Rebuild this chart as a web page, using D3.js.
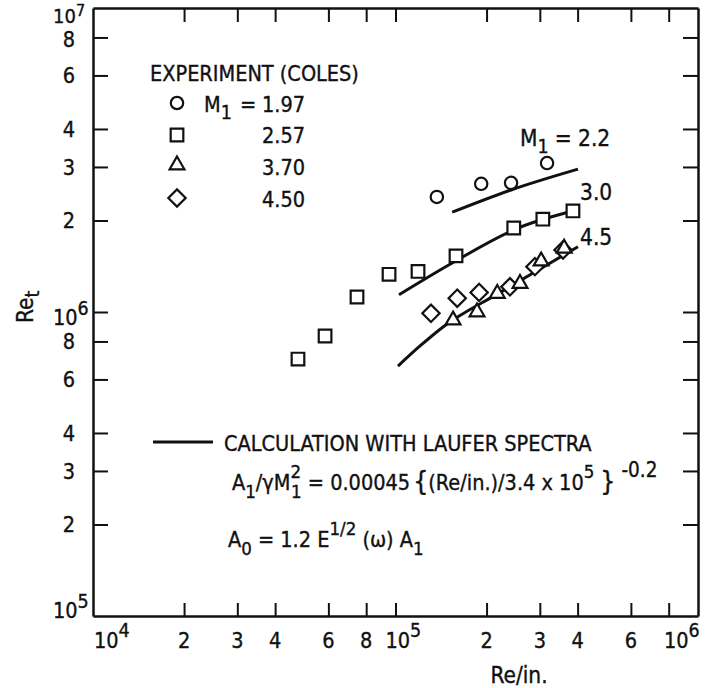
<!DOCTYPE html>
<html>
<head>
<meta charset="utf-8">
<script src="https://cdn.jsdelivr.net/npm/d3@7"></script>
<style>
  html, body { margin: 0; padding: 0; background: #fff; }
  svg { display: block; }
  text { font-family: "DejaVu Sans Condensed", "Liberation Sans Narrow", "DejaVu Sans", sans-serif; fill: #111; stroke: #111; stroke-width: 0.35px; }
</style>
</head>
<body>
<svg id="chart" width="706" height="688"></svg>
<script>
// ---------------- data ----------------
const seriesNames = ["1.97", "2.57", "3.70", "4.50"];
const seriesSymbols = ["circle", "square", "triangle", "diamond"];

const circleRe = [1.37e5, 1.92e5, 2.41e5, 3.17e5];
const circleRet = [2.39e6, 2.64e6, 2.66e6, 3.09e6];

const squareRe = [4.76e4, 5.85e4, 7.46e4, 9.52e4, 1.187e5, 1.585e5, 2.46e5, 3.07e5, 3.86e5];
const squareRet = [7.0e5, 8.34e5, 1.12e6, 1.33e6, 1.36e6, 1.53e6, 1.89e6, 2.02e6, 2.15e6];

const triangleRe = [1.55e5, 1.86e5, 2.17e5, 2.58e5, 3.03e5, 3.61e5];
const triangleRet = [9.4e5, 1.0e6, 1.15e6, 1.24e6, 1.47e6, 1.62e6];

const diamondRe = [1.31e5, 1.60e5, 1.89e5, 2.39e5, 2.89e5, 3.58e5];
const diamondRet = [9.9e5, 1.11e6, 1.16e6, 1.21e6, 1.41e6, 1.60e6];

// calculation curves (Laufer spectra)
const curveLabels = ["2.2", "3.0", "4.5"];
const calc22Re = [1.54e5, 2.41e5, 4.01e5];
const calc22Ret = [2.13e6, 2.52e6, 2.95e6];
const calc30Re = [1.027e5, 1.54e5, 2.58e5, 4.01e5];
const calc30Ret = [1.14e6, 1.45e6, 1.90e6, 2.17e6];
const calc45Re = [1.019e5, 1.205e5, 1.436e5, 2.22e5, 4.01e5];
const calc45Ret = [6.64e5, 7.73e5, 8.93e5, 1.16e6, 1.64e6];

// axes
const xDomain = [1e4, 1e6];
const yDomain = [1e5, 1e7];
const xTickValues = [2e4, 3e4, 4e4, 6e4, 8e4, 1e5, 2e5, 3e5, 4e5, 6e5, 8e5];
const yTickValues = [2e5, 3e5, 4e5, 6e5, 8e5, 1e6, 2e6, 3e6, 4e6, 6e6, 8e6];
const xLabelValues = [1e4, 2e4, 3e4, 4e4, 6e4, 8e4, 1e5, 2e5, 3e5, 4e5, 6e5, 1e6];
const xLabelMain = ["10", "2", "3", "4", "6", "8", "10", "2", "3", "4", "6", "10"];
const xLabelExp = ["4", "", "", "", "", "", "5", "", "", "", "", "6"];
const yLabelValues = [1e5, 2e5, 3e5, 4e5, 6e5, 8e5, 1e6, 2e6, 3e6, 4e6, 6e6, 8e6, 1e7];
const yLabelMain = ["10", "2", "3", "4", "6", "8", "10", "2", "3", "4", "6", "8", "10"];
const yLabelExp = ["5", "", "", "", "", "", "6", "", "", "", "", "", "7"];

const xTitle = "Re/in.";
const yTitle = "Re";
const yTitleSub = "t";
const legendTitle = "EXPERIMENT (COLES)";
const calcTitle = "CALCULATION WITH LAUFER SPECTRA";

// ---------------- layout ----------------
const L = 93, R = 698, T = 8, B = 616;
const FS = 21.5;
const svg = d3.select("#chart");
const x = d3.scaleLog().domain(xDomain).range([L, R]);
const y = d3.scaleLog().domain(yDomain).range([B, T]);

const ink = "#111";
const axW = 2.5;

function styleAxis(g) {
  g.selectAll("path.domain").attr("stroke", ink).attr("stroke-width", axW);
  g.selectAll(".tick line").attr("stroke", ink).attr("stroke-width", 2);
  g.selectAll(".tick text").remove();
}
svg.append("g").attr("transform", `translate(0,${B})`)
  .call(d3.axisBottom(x).tickValues(xTickValues).tickSize(-13).tickSizeOuter(0).tickFormat(""))
  .call(styleAxis);
svg.append("g").attr("transform", `translate(0,${T})`)
  .call(d3.axisTop(x).tickValues(xTickValues).tickSize(-14).tickSizeOuter(0).tickFormat(""))
  .call(styleAxis);
svg.append("g").attr("transform", `translate(${L},0)`)
  .call(d3.axisLeft(y).tickValues(yTickValues).tickSize(-15).tickSizeOuter(0).tickFormat(""))
  .call(styleAxis);
svg.append("g").attr("transform", `translate(${R},0)`)
  .call(d3.axisRight(y).tickValues(yTickValues).tickSize(-15).tickSizeOuter(0).tickFormat(""))
  .call(styleAxis);

// x tick labels
const xLab = svg.append("g").attr("font-size", FS);
xLabelValues.forEach((v, i) => {
  const px = x(v);
  const t = xLab.append("text").attr("y", 648);
  if (xLabelExp[i]) {
    let anchorX;
    if (i === 0) anchorX = px + 1;
    else if (i === xLabelValues.length - 1) anchorX = px - 34;
    else anchorX = px - 10;
    t.attr("x", anchorX).attr("text-anchor", "start");
    t.append("tspan").text(xLabelMain[i]);
    t.append("tspan").attr("dy", -11).attr("font-size", FS - 2).text(xLabelExp[i]);
  } else {
    t.attr("x", px).attr("text-anchor", "middle").text(xLabelMain[i]);
  }
});

// y tick labels
const yLab = svg.append("g").attr("font-size", FS);
const lastY = yLabelValues.length - 1;
yLabelValues.forEach((v, i) => {
  const py = y(v);
  if (yLabelExp[i]) {
    const top = i === lastY;
    const off = i === 0 ? 2 : (top ? 15 : 13);
    const t = yLab.append("text").attr("x", 53).attr("y", py + off).attr("text-anchor", "start")
      .attr("font-size", top ? FS - 1.5 : FS);
    t.append("tspan").text(yLabelMain[i]);
    t.append("tspan").attr("dy", top ? -7 : -10).attr("font-size", top ? 16 : FS - 2).text(yLabelExp[i]);
  } else {
    const off = i === lastY - 1 ? 10 : 8;
    yLab.append("text").attr("x", 75).attr("y", py + off).attr("text-anchor", "end").text(yLabelMain[i]);
  }
});

// axis titles
svg.append("text").attr("x", 519).attr("y", 683).attr("text-anchor", "middle")
  .attr("font-size", FS + 1).text(xTitle);
const yt = svg.append("text").attr("transform", "translate(33,323) rotate(-90)")
  .attr("text-anchor", "start").attr("font-size", FS + 1);
yt.append("tspan").text(yTitle);
yt.append("tspan").attr("dy", 6).attr("font-size", FS - 2).text(yTitleSub);

// curves
const line = d3.line().x(d => x(d[0])).y(d => y(d[1])).curve(d3.curveMonotoneX);
[[calc22Re, calc22Ret], [calc30Re, calc30Ret], [calc45Re, calc45Ret]].forEach(([xs, ys]) => {
  svg.append("path").datum(xs.map((v, i) => [v, ys[i]]))
    .attr("d", line).attr("fill", "none").attr("stroke", ink).attr("stroke-width", 3);
});

// symbols
const symType = { circle: d3.symbolCircle, square: d3.symbolSquare, triangle: d3.symbolTriangle, diamond: d3.symbolSquare };
const symSize = { circle: 120, square: 160, triangle: 95, diamond: 150 };
function drawSymbol(g, kind, px, py) {
  g.append("path")
    .attr("d", d3.symbol().type(symType[kind]).size(symSize[kind])())
    .attr("transform", `translate(${px},${py})` + (kind === "diamond" ? " rotate(45)" : ""))
    .attr("fill", "#fff").attr("stroke", ink).attr("stroke-width", 2.2);
}
const pts = svg.append("g");
const seriesData = [[circleRe, circleRet], [squareRe, squareRet], [diamondRe, diamondRet], [triangleRe, triangleRet]];
const seriesKinds = ["circle", "square", "diamond", "triangle"];
seriesData.forEach(([xs, ys], si) => {
  xs.forEach((v, i) => drawSymbol(pts, seriesKinds[si], x(v), y(ys[i])));
});

// curve labels
const cl = svg.append("g").attr("font-size", FS + 1);
const m = cl.append("text").attr("x", 520).attr("y", 146);
m.append("tspan").text("M");
m.append("tspan").attr("dy", 7).attr("font-size", FS - 2).text("1");
m.append("tspan").attr("dy", -7).attr("dx", 6).text("= " + curveLabels[0]);
cl.append("text").attr("x", 580).attr("y", 200).text(curveLabels[1]);
cl.append("text").attr("x", 580).attr("y", 245).text(curveLabels[2]);

// experiment legend
const lg = svg.append("g").attr("font-size", FS);
lg.append("text").attr("x", 150).attr("y", 81).text(legendTitle);
const legY = [103, 135, 165, 198];
const legBase = [112, 143, 175, 207];
seriesSymbols.forEach((k, i) => {
  drawSymbol(lg, k, 177, legY[i]);
  if (i === 0) {
    const t = lg.append("text").attr("x", 204).attr("y", legBase[i]);
    t.append("tspan").text("M");
    t.append("tspan").attr("dy", 7).attr("font-size", FS - 2).text("1");
    t.append("tspan").attr("dy", -7).attr("dx", 8).text("=");
  }
  lg.append("text").attr("x", 262).attr("y", legBase[i]).text(seriesNames[i]);
});

// calculation legend
const cg = svg.append("g").attr("font-size", FS);
cg.append("line").attr("x1", 153).attr("x2", 213).attr("y1", 442).attr("y2", 442)
  .attr("stroke", ink).attr("stroke-width", 3);
cg.append("text").attr("x", 224).attr("y", 451).text(calcTitle);

const f1 = cg.append("text").attr("x", 232).attr("y", 490);
f1.append("tspan").text("A");
f1.append("tspan").attr("dy", 8).attr("font-size", FS - 3).text("1");
f1.append("tspan").attr("dy", -8).text("/γM");
f1.append("tspan").attr("dy", -12).attr("font-size", FS - 3).text("2");
f1.append("tspan").attr("dy", 20).attr("dx", -10).attr("font-size", FS - 3).text("1");
f1.append("tspan").attr("dy", -8).text(" = 0.00045");
f1.append("tspan").attr("dx", 3).attr("font-size", FS + 5).text("{");
f1.append("tspan").text("(Re/in.)/3.4 x 10");
f1.append("tspan").attr("dy", -12).attr("font-size", FS - 3).text("5");
f1.append("tspan").attr("dy", 12).attr("dx", 6).attr("font-size", FS + 5).text("}");
f1.append("tspan").attr("dy", -13).attr("dx", 6).attr("font-size", FS - 1).text("-0.2");

const f2 = cg.append("text").attr("x", 228).attr("y", 547);
f2.append("tspan").text("A");
f2.append("tspan").attr("dy", 8).attr("font-size", FS - 3).text("0");
f2.append("tspan").attr("dy", -8).text(" = 1.2 E");
f2.append("tspan").attr("dy", -12).attr("font-size", FS - 3).text("1/2");
f2.append("tspan").attr("dy", 12).text(" (ω) A");
f2.append("tspan").attr("dy", 8).attr("font-size", FS - 3).text("1");
</script>
</body>
</html>
